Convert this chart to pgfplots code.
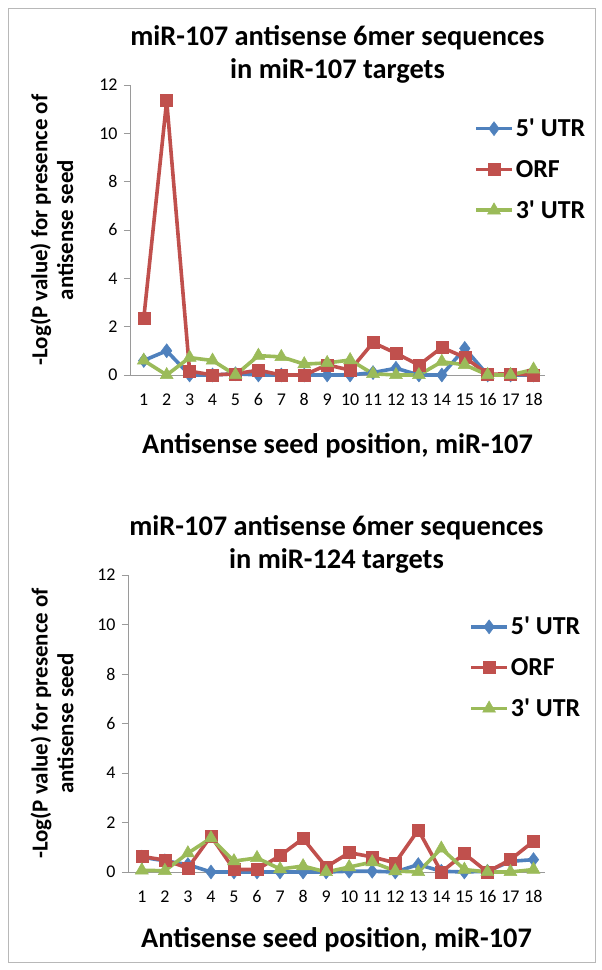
\documentclass[border=0pt]{standalone}
\usepackage{pgfplots}
\pgfplotsset{compat=1.18}
\usepackage{fontspec}
\setmainfont{Carlito}[Ligatures=TeXOff]
\definecolor{cblue}{HTML}{4F81BD}
\definecolor{cred}{HTML}{C0504D}
\definecolor{cgreen}{HTML}{9BBB59}
\definecolor{axgray}{HTML}{9A9A9A}
\pgfplotsset{
  mychart/.style={
    scale only axis,
    xmin=0.4, xmax=18.5, ymin=0, ymax=12,
    xtick={1,...,18}, ytick={0,2,...,12},
    axis lines*=left,
    axis line style={draw=axgray, line width=0.9bp},
    ytick style={draw=axgray, line width=0.9bp},
    xtick style={draw=none},
    tick align=outside,
    major tick length=6bp,
    /pgf/number format/assume math mode=true,
    tick label style={font=\fontsize{18}{20}\selectfont},
    xticklabel style={yshift=-9bp},
    yticklabel style={xshift=-3bp},
    every axis plot/.append style={line width=3.6bp},
    ylabel style={font=\bfseries\fontsize{23}{26}\selectfont, align=center, rotate=0},
    xlabel style={font=\bfseries\fontsize{28.5}{30}\selectfont},
    title style={font=\bfseries\fontsize{28.5}{33}\selectfont, align=center, anchor=south, inner sep=0pt, yshift=-4bp},
    legend style={draw=none, fill=none, font=\bfseries\fontsize{26}{28}\selectfont, row sep=18bp, inner sep=0pt, cells={anchor=west}, anchor=north west},
    legend image code/.code={\draw[mark repeat=2, mark phase=2] plot coordinates {(0bp,0bp) (18bp,0bp) (36bp,0bp)};},
    clip=false,
  },
  s5/.style={color=cblue, mark=diamond*, mark size=7bp, mark options={fill=cblue, draw=cblue, line width=0.5bp}},
  sorf/.style={color=cred, mark=square*, mark size=6bp, mark options={fill=cred, draw=cred, line width=0.5bp}},
  s3/.style={color=cgreen, mark=triangle*, mark size=7.5bp, mark options={fill=cgreen, draw=cgreen, line width=0.5bp}},
}
\begin{document}
\begin{tikzpicture}
\path[use as bounding box] (0,0) rectangle (602bp,970bp);
\draw[draw=axgray!70, line width=0.9bp] (8bp,8bp) rectangle (595bp,962bp);
% Top chart
\begin{axis}[mychart,
  at={(130bp,595bp)}, anchor=south west, width=415bp, height=290bp,
  title={miR-107 antisense 6mer sequences\\in miR-107 targets},
  xlabel={Antisense seed position, miR-107},
  xlabel style={at={(axis description cs:0.5,-0.245)}, anchor=center},
  ylabel={-Log(P value) for presence of\\antisense seed},
  ylabel style={at={(axis description cs:-0.128,0.5)}, anchor=south, rotate=0},
  legend style={at={(axis description cs:0.829,0.89)}},
]
\addplot+[s5] coordinates {(1,0.6) (2,1.0) (3,0) (4,0) (5,0.05) (6,0) (7,0) (8,0) (9,0) (10,0) (11,0.1) (12,0.28) (13,0) (14,0) (15,1.1) (16,0) (17,0) (18,0)};
\addplot+[sorf] coordinates {(1,2.34) (2,11.35) (3,0.16) (4,0) (5,0.05) (6,0.2) (7,0) (8,0) (9,0.42) (10,0.2) (11,1.34) (12,0.9) (13,0.41) (14,1.14) (15,0.73) (16,0.03) (17,0.05) (18,0)};
\addplot+[s3] coordinates {(1,0.6) (2,0) (3,0.72) (4,0.6) (5,0) (6,0.8) (7,0.75) (8,0.45) (9,0.5) (10,0.62) (11,0.05) (12,0) (13,0) (14,0.55) (15,0.42) (16,0) (17,0) (18,0.23)};
\legend{5' UTR, ORF, 3' UTR}
\end{axis}
% Bottom chart
\begin{axis}[mychart,
  at={(128bp,98bp)}, anchor=south west, width=417bp, height=297bp,
  title={miR-107 antisense 6mer sequences\\in miR-124 targets},
  xlabel={Antisense seed position, miR-107},
  xlabel style={at={(axis description cs:0.5,-0.229)}, anchor=center},
  ylabel={-Log(P value) for presence of\\antisense seed},
  ylabel style={at={(axis description cs:-0.122,0.5)}, anchor=south, rotate=0},
  legend style={at={(axis description cs:0.818,0.865)}},
]
\addplot+[s5] coordinates {(1,0.6) (2,0.45) (3,0.3) (4,0) (5,0) (6,0) (7,0) (8,0) (9,0) (10,0.03) (11,0.03) (12,0) (13,0.3) (14,0.03) (15,0) (16,0.03) (17,0.43) (18,0.5)};
\addplot+[sorf] coordinates {(1,0.63) (2,0.48) (3,0.16) (4,1.45) (5,0.1) (6,0.1) (7,0.66) (8,1.35) (9,0.2) (10,0.78) (11,0.61) (12,0.37) (13,1.7) (14,0) (15,0.74) (16,0) (17,0.5) (18,1.24)};
\addplot+[s3] coordinates {(1,0.07) (2,0.05) (3,0.76) (4,1.37) (5,0.44) (6,0.57) (7,0.12) (8,0.24) (9,0) (10,0.2) (11,0.4) (12,0.04) (13,0) (14,0.95) (15,0.1) (16,0) (17,0) (18,0.1)};
\legend{5' UTR, ORF, 3' UTR}
\end{axis}
\end{tikzpicture}
\end{document}
